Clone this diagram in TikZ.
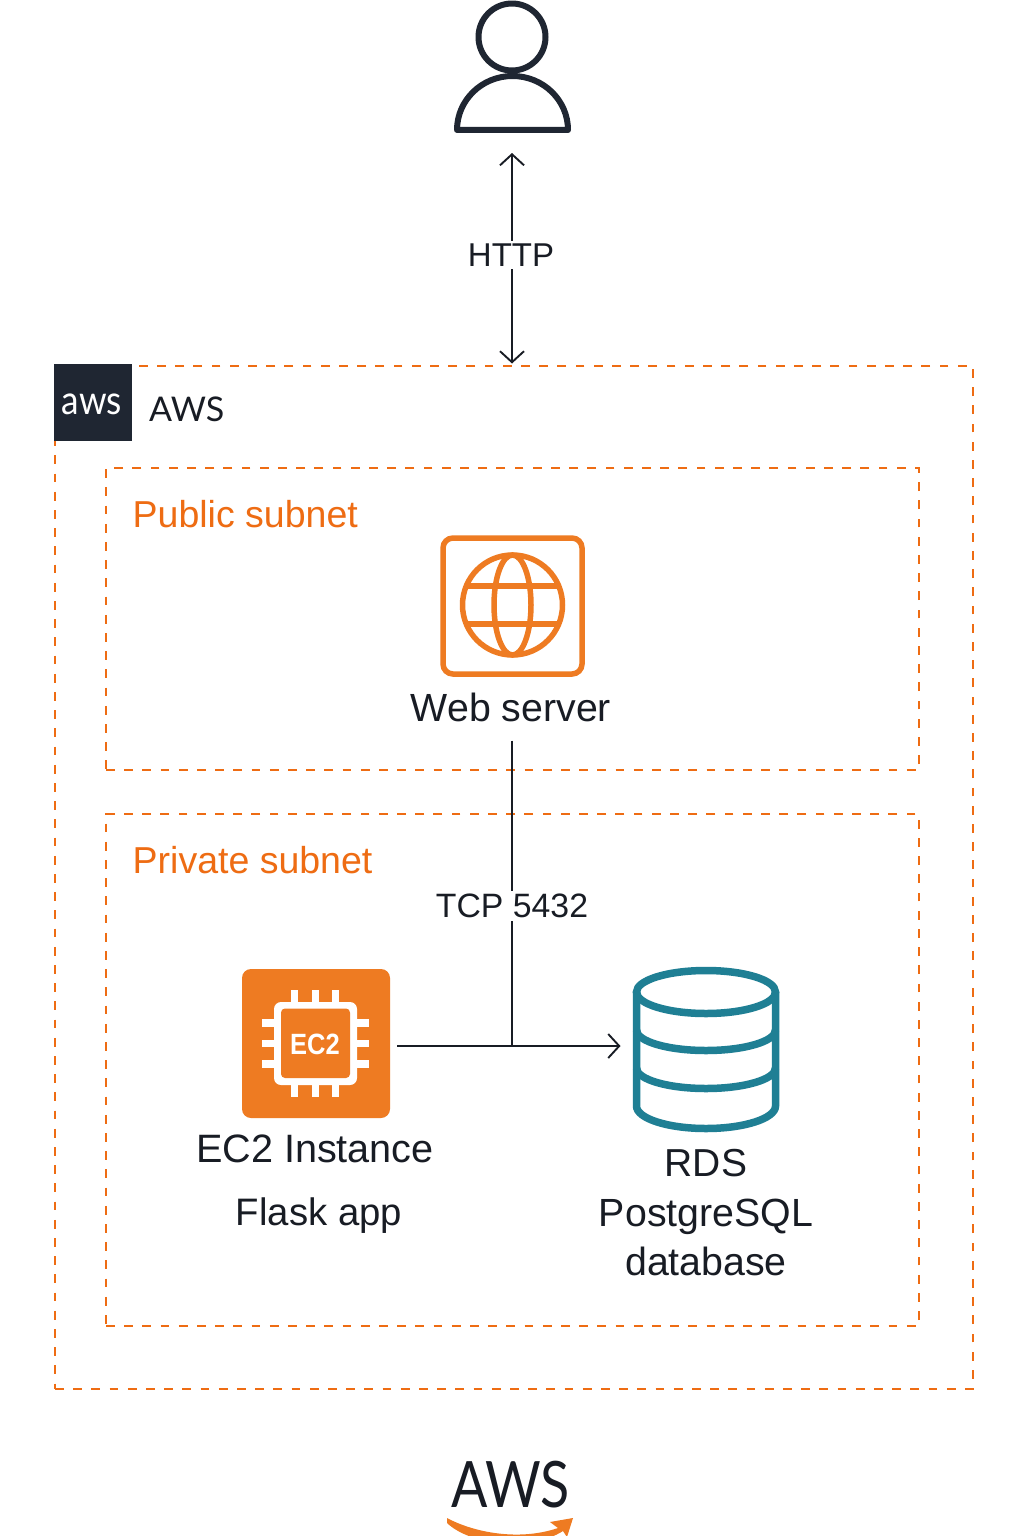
\documentclass[tikz,border=0pt]{standalone}
\usepackage{fontspec}
\usepackage{graphicx}
\setmainfont{Liberation Sans}
\newfontfamily\logofont{Lato}
\usetikzlibrary{arrows.meta}
\definecolor{awsorange}{HTML}{EE6C13}
\definecolor{iconorange}{HTML}{EE7B22}
\definecolor{ink}{HTML}{181C24}
\definecolor{navy}{HTML}{1F2632}
\definecolor{teal}{HTML}{1F7F94}
\newcommand{\fs}[1]{\fontsize{#1}{#1}\selectfont}
\tikzset{
  zone/.style={draw=awsorange,line width=1.9pt,dash pattern=on 8.8pt off 9.4pt,inner sep=0pt,outer sep=0pt},
  iconbox/.style={inner sep=0pt,outer sep=0pt},
  label/.style={text=ink,inner sep=0pt,font=\fs{39}},
  zonelabel/.style={text=awsorange,inner sep=0pt,font=\fs{37.5},anchor=base west},
  link/.style={draw=ink,line width=1.9pt,>={Straight Barb[length=11pt,width=24pt,line width=1.9pt]}},
  linklabel/.style={fill=white,text=ink,inner xsep=0pt,inner ysep=3pt},
  usericon/.style={draw=navy,line width=6pt,line join=round},
  webicon/.style={draw=iconorange,line width=5.5pt},
  dbicon/.style={draw=teal,line width=7.5pt},
  pin/.style={fill=white},
}
\begin{document}
\begin{tikzpicture}[x=1pt,y=-1pt]
\useasboundingbox (0,0) rectangle (1024,1536);
\fill[white] (0,0) rectangle (1024,1536);
\begin{scope}
\clip (0,0) rectangle (1024,1536);
% zones
\node[zone,minimum width=918pt,minimum height=1023pt] (aws) at (514,877.5) {};
\node[zone,minimum width=813pt,minimum height=302pt] (public) at (512.5,619) {};
\node[zone,minimum width=813pt,minimum height=512pt] (private) at (512.5,1070) {};
% aws tag
\node[fill=navy,inner sep=0pt,minimum width=78pt,minimum height=77pt] (tag) at (93,402.5) {};
\node[text=white,inner sep=0pt,font=\logofont\fs{40}] (tagtext) at (92,404) {\scalebox{0.88}[1]{aws}};
\node[text=ink,inner sep=0pt,anchor=base west,font=\logofont\fs{34}] (awslabel) at (149,421) {AWS};
\node[zonelabel] (publiclabel) at (132.5,527) {Public subnet};
\node[zonelabel] (privatelabel) at (132.5,873) {Private subnet};
% user icon
\node[iconbox,minimum width=118pt,minimum height=134pt] (user) at (512,67) {};
\draw[usericon] (512,37) circle[radius=33.5];
\draw[usericon] (457,130) arc[start angle=180,end angle=360,x radius=55.5,y radius=54] -- cycle;
% web server icon
\node[iconbox,minimum width=145pt,minimum height=142pt] (web) at (512.5,606) {};
\draw[webicon,rounded corners=10pt] (443,538) rectangle (582,674);
\draw[webicon] (512.5,605) circle[radius=50];
\draw[webicon] (512.5,605) ellipse[x radius=18.5,y radius=50];
\draw[webicon] (466,586) -- (559,586);
\draw[webicon] (466,624) -- (559,624);
\node[label,font=\fs{39.3}] (weblabel) at (511,707) {Web server};
% ec2 icon
\node[iconbox,fill=iconorange,rounded corners=9pt,minimum width=148pt,minimum height=149pt] (ec2) at (316,1043.5) {};
\foreach \px in {291,311.5,332}{
  \fill[pin] (\px,990) rectangle ++(7,14);
  \fill[pin] (\px,1083) rectangle ++(7,14);
}
\foreach \py in {1019,1039.5,1060}{
  \fill[pin] (262,\py) rectangle ++(14,7.5);
  \fill[pin] (355,\py) rectangle ++(14,7.5);
}
\fill[pin,rounded corners=7pt] (274,1002) rectangle (357,1085);
\fill[iconorange,rounded corners=4pt] (281,1008.5) rectangle (350,1078);
\node[text=white,inner sep=0pt,font=\bfseries\fs{25.5}] (ec2text) at (315,1044.5) {\scalebox{1}[1.15]{EC2}};
\node[label,font=\fs{39.6}] (ec2label) at (315,1149) {EC2 Instance};
\node[label,font=\fs{38.3}] (flask) at (319,1216) {Flask app};
% database icon
\node[iconbox,minimum width=146pt,minimum height=165pt] (db) at (705.5,1049.5) {};
\draw[dbicon] (706,992) ellipse[x radius=69.5,y radius=21.5];
\draw[dbicon] (636.5,992) -- (636.5,1106) arc[start angle=180,end angle=0,x radius=69.5,y radius=22.5] -- (775.5,992);
\draw[dbicon] (636.5,1030) arc[start angle=180,end angle=0,x radius=69.5,y radius=20.5];
\draw[dbicon] (636.5,1068) arc[start angle=180,end angle=0,x radius=69.5,y radius=20.5];
\node[label,font=\fs{39}] (rds) at (706,1163) {RDS};
\node[label,font=\fs{39.3}] (pg) at (706,1217) {PostgreSQL};
\node[label,font=\fs{39.3}] (dbname) at (706,1261) {database};
% connectors
\coordinate (join) at (512,1046);
\draw[link,<->,shorten <=19pt,shorten >=2.5pt] (user.south) -- (aws.north -| user.south);
\node[linklabel,font=\fs{33}] (http) at (511,255) {HTTP};
\draw[link,shorten <=19pt] (weblabel.south -| join) -- (join);
\draw[link,->,shorten <=7pt,shorten >=12pt] (ec2.east |- join) -- (db.west |- join);
\node[linklabel,font=\fs{33.8}] (tcp) at (512,906) {TCP 5432};
% aws logo
\node[text=ink,inner sep=0pt,font=\logofont\fs{64}] (logo) at (510.5,1485) {\scalebox{0.84}[1]{AWS}};
\fill[iconorange] (447,1518)
  .. controls (475,1533) and (520,1541) .. (558,1528)
  -- (550,1522) -- (573,1518) -- (567,1537) -- (563,1531)
  .. controls (530,1552) and (470,1545) .. (447,1523) -- cycle;
\end{scope}
\end{tikzpicture}
\end{document}
